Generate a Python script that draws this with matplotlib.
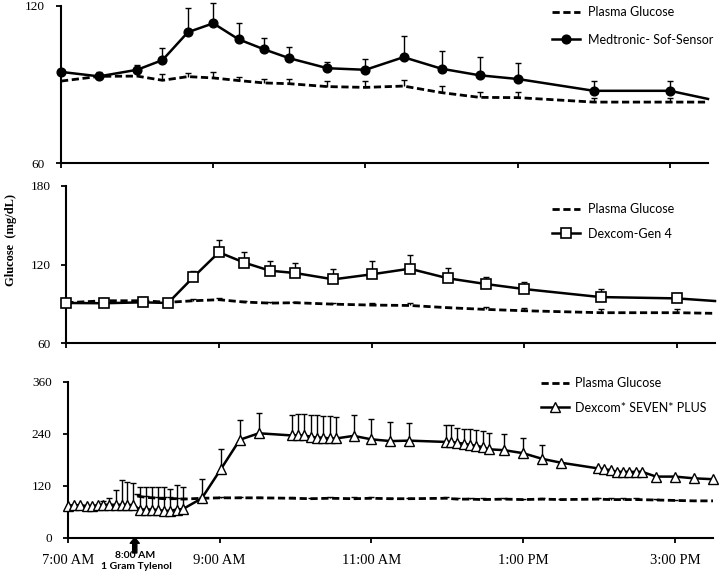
import numpy as np
import matplotlib.pyplot as plt

# time in minutes after 7:00 AM
tick_pos = [0, 120, 240, 360, 480]
tick_lab = ["7:00 AM", "9:00 AM", "11:00 AM", "1:00 PM", "3:00 PM"]

# panel 1 : Medtronic Sof-Sensor vs plasma
med_t = [0, 30, 60, 80, 100, 120, 140, 160, 180, 210, 240, 270, 300, 330, 360, 420, 480, 510]
med_v = [94.8, 93.1, 95.6, 99.3, 109.9, 113.3, 107.2, 103.4, 100.0, 96.2, 95.6, 100.4, 96.0, 93.5, 92.1, 87.6, 87.6, 84.5]
med_e = [0, 1.8, 1.9, 4.7, 9.1, 7.7, 6.1, 4.4, 4.3, 2.4, 4.0, 8.1, 6.9, 7.1, 6.0, 3.6, 3.6, 0]
pg1_v = [91.3, 93.1, 93.2, 91.6, 93.0, 92.5, 91.5, 90.6, 90.3, 89.2, 88.9, 89.4, 86.9, 85.1, 85.0, 83.3, 83.3, 83.3]
pg1_e = [0, 0, 0, 2.3, 1.5, 2.3, 1.5, 1.5, 1.8, 2.0, 2.3, 2.3, 2.5, 2.1, 2.3, 1.6, 1.6, 0]

# panel 2 : Dexcom Gen 4 vs plasma
dx4_t = [0, 30, 60, 80, 100, 120, 140, 160, 180, 210, 240, 270, 300, 330, 360, 420, 480, 510]
dx4_v = [90.7, 90.5, 91.2, 90.7, 110.5, 129.3, 121.4, 115.3, 113.5, 108.7, 112.5, 116.8, 109.5, 105.1, 101.3, 95.2, 94.2, 92.2]
dx4_e = [0, 0, 0, 0, 4.8, 9.3, 8.3, 7.3, 7.6, 7.9, 10.1, 10.2, 7.6, 5.6, 5.6, 5.9, 4.3, 0]
pg2_v = [90.9, 92.4, 92.4, 91.2, 92.4, 93.2, 91.4, 90.6, 90.9, 89.8, 89.1, 88.8, 87.1, 85.8, 84.8, 83.3, 83.3, 82.8]
pg2_e = [0, 2.0, 2.5, 0, 1.5, 1.5, 0.8, 0.8, 0.8, 1.0, 1.8, 2.0, 0.8, 1.5, 1.8, 2.5, 2.5, 0]

# panel 3 : Dexcom SEVEN PLUS vs plasma
sp_t = [0, 5, 10, 15, 19, 24, 28, 33, 38, 43, 47, 52, 57, 62, 67, 71, 76, 81, 86, 91,
        106, 121, 136, 151, 177, 182, 187, 192, 197, 202, 207, 212, 226, 240, 255, 270,
        299, 303, 308, 313, 318, 323, 328, 333, 345, 360, 375, 390,
        419, 424, 429, 434, 439, 444, 449, 454, 465, 480, 495, 510]
sp_v = [74, 75, 75, 73, 73, 75, 76, 76, 76, 76, 76, 75, 65, 65, 65, 64, 62, 62, 65, 66,
        91, 158, 226, 241, 236, 236, 236, 233, 231, 231, 229, 229, 235, 227, 223, 224,
        221, 221, 219, 217, 214, 212, 209, 204, 202, 195, 182, 173,
        160, 158, 156, 152, 152, 152, 152, 152, 141, 141, 137, 135]
sp_e = [0, 0, 0, 0, 0, 0, 8, 16, 33, 58, 52, 52, 51, 51, 52, 54, 54, 51, 56, 51,
        44, 47, 46, 46, 48, 50, 50, 50, 52, 50, 51, 49, 48, 46, 43, 40,
        38, 38, 35, 35, 36, 37, 37, 37, 37, 34, 32, 0,
        0, 0, 0, 0, 0, 0, 0, 0, 0, 0, 0, 0]
pg3_t = [55, 62, 67, 71, 76, 81, 86, 91, 106, 121, 136, 151, 177, 192, 207, 226, 240, 255,
         270, 299, 308, 318, 328, 345, 360, 375, 390, 419, 429, 439, 449, 465, 480, 495, 510]
pg3_v = [96, 93, 92, 91, 90, 90, 90, 89, 91, 92, 92, 92, 91, 90, 91, 90, 91, 90,
         90, 91, 89, 89, 88, 89, 88, 89, 88, 89, 88, 88, 88, 87, 86, 85, 85]
pg3_e = [4, 3, 3, 3, 3, 3, 2, 2, 2, 2, 2, 2, 3, 2, 2, 3, 2, 2,
         2, 4, 3, 3, 3, 2, 2, 2, 2, 3, 3, 3, 3, 2, 2, 0, 0]

W, H = 720, 572
fig = plt.figure(figsize=(7.2, 5.72), dpi=100)

def px_axes(l, r, b, t):
    return fig.add_axes([l / W, 1 - b / H, (r - l) / W, (b - t) / H])

def up_err(ax, t, v, e):
    t, v, e = np.array(t), np.array(v), np.array(e)
    m = e > 0
    ax.vlines(t[m], v[m], v[m] + e[m], color='k', lw=1, zorder=2, clip_on=False)
    ax.plot(t[m], v[m] + e[m], ls='none', marker='_', ms=4.5, mew=1,
            color='k', zorder=2, clip_on=False)

ax1 = px_axes(61, 708, 163.3, 5.7)
ax2 = px_axes(66.3, 715, 343.3, 185.7)
ax3 = px_axes(67.7, 713, 537.7, 381.7)

dash = (0, (2.6, 1.3))
lfont = {'family': 'Lato', 'size': 9}

# top
up_err(ax1, med_t, pg1_v, pg1_e)
up_err(ax1, med_t, med_v, med_e)
l1, = ax1.plot(med_t, pg1_v, color='k', lw=2.0, ls=dash, zorder=3, clip_on=False)
l2, = ax1.plot(med_t, med_v, color='k', lw=1.8, marker='o', ms=6.3,
               markevery=list(range(len(med_t) - 1)), zorder=4, clip_on=False)
ax1.set_ylim(60, 120)
ax1.set_yticks([60, 120])
ax1.legend([l1, l2], ["Plasma Glucose", "Medtronic- Sof-Sensor"], prop=lfont,
           frameon=False, loc='upper left', bbox_to_anchor=(552 / W, 1 - 6 / H),
           bbox_transform=fig.transFigure, handlelength=2.2, labelspacing=1.25,
           borderpad=0, borderaxespad=0, handletextpad=0.7)

# middle
up_err(ax2, dx4_t, pg2_v, pg2_e)
up_err(ax2, dx4_t, dx4_v, dx4_e)
l1, = ax2.plot(dx4_t, pg2_v, color='k', lw=2.0, ls=dash, zorder=3, clip_on=False)
l2, = ax2.plot(dx4_t, dx4_v, color='k', lw=1.8, marker='s', ms=6.5, mfc='white',
               mew=1.2, markevery=list(range(len(dx4_t) - 1)), zorder=4, clip_on=False)
ax2.set_ylim(60, 180)
ax2.set_yticks([60, 120, 180])
ax2.legend([l1, l2], ["Plasma Glucose", "Dexcom-Gen 4"], prop=lfont,
           frameon=False, loc='upper left', bbox_to_anchor=(552 / W, 1 - 203 / H),
           bbox_transform=fig.transFigure, handlelength=2.2, labelspacing=1.0,
           borderpad=0, borderaxespad=0, handletextpad=0.7)

# bottom
up_err(ax3, pg3_t, pg3_v, pg3_e)
up_err(ax3, sp_t, sp_v, sp_e)
l1, = ax3.plot(pg3_t, pg3_v, color='k', lw=2.0, ls=dash, zorder=3, clip_on=False)
l2, = ax3.plot(sp_t, sp_v, color='k', lw=1.8, marker='^', ms=6.5, mfc='white',
               mew=1.0, zorder=4, clip_on=False)
ax3.set_ylim(0, 360)
ax3.set_yticks([0, 120, 240, 360])
ax3.legend([l1, l2], ["Plasma Glucose", "Dexcom* SEVEN* PLUS"], prop=lfont,
           frameon=False, loc='upper left', bbox_to_anchor=(541 / W, 1 - 377 / H),
           bbox_transform=fig.transFigure, handlelength=2.2, labelspacing=1.0,
           borderpad=0, borderaxespad=0, handletextpad=0.5)

for ax in (ax1, ax2, ax3):
    ax.set_xlim(0, 510)
    ax.set_xticks(tick_pos)
    for s in ('top', 'right'):
        ax.spines[s].set_visible(False)
    for s in ('left', 'bottom'):
        ax.spines[s].set_linewidth(1.5)
    ax.tick_params(direction='out', length=3.5, width=1.3, pad=8)
    for lab in ax.get_yticklabels():
        lab.set_fontfamily('Liberation Serif')
        lab.set_fontsize(9.5)

ax1.set_xticklabels([])
ax2.set_xticklabels([])
ax3.set_xticklabels(tick_lab, fontfamily='Liberation Serif', fontsize=10.5)
ax3.tick_params(axis='x', pad=8)

# Tylenol dose marker
ax3.annotate('', xy=(53, 0), xycoords='data', xytext=(0, -11), textcoords='offset points',
             arrowprops=dict(facecolor='black', edgecolor='black', width=3, headwidth=6.5,
                             headlength=4, shrink=0), annotation_clip=False)
fig.text(135 / W, 1 - 556 / H, "8:00 AM", ha='center', va='center',
         fontfamily='Lato', fontweight='bold', fontsize=7.5)
fig.text(136 / W, 1 - 566.5 / H, "1 Gram Tylenol", ha='center', va='center',
         fontfamily='Lato', fontweight='bold', fontsize=7.5)

fig.text(11 / W, 1 - 240 / H, "Glucose  (mg/dL)", rotation=90, ha='center', va='center',
         fontfamily='Liberation Serif', fontweight='bold', fontsize=9)

fig.savefig("out.png", dpi=100)
